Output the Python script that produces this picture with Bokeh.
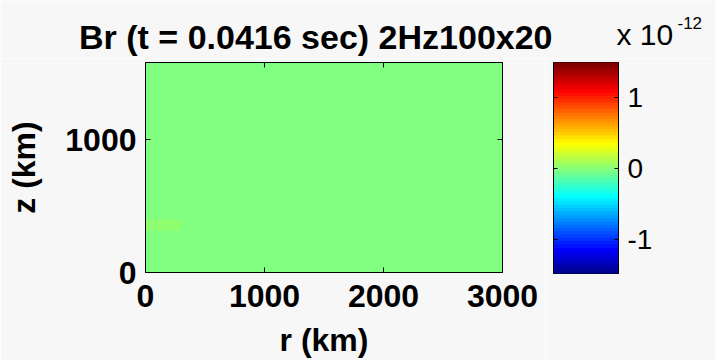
import numpy as np
from bokeh.plotting import figure
from bokeh.models import (Range1d, LinearColorMapper, FixedTicker, LinearAxis,
                          Label, CustomJSTickFormatter)
from bokeh.layouts import column, row
from bokeh.embed import file_html
from bokeh.resources import INLINE

# ---------------- data ----------------
title_text = "Br  (t = 0.0416 sec) 2Hz100x20"
x_label = "r (km)"
y_label = "z (km)"
r_extent_km = [0, 3000]
z_extent_km = [0, 1580]
n_r, n_z = 100, 20                 # grid 100 x 20
field_background = 0.0             # Br (units of 1e-12) almost everywhere
patch_rows = [4]                   # faint slightly positive spot near r~0-300 km, z~320-400 km
patch_cols = list(range(0, 10))
patch_value = 0.03
x_ticks = [0, 1000, 2000, 3000]
y_ticks = [0, 1000]
cbar_low, cbar_high = -1.48, 1.49  # colour limits (x 1e-12)
cbar_ticks = [-1, 0, 1]
cbar_exponent_base = "x 10"
cbar_exponent = "-12"

BG = "#F7F7F7"
FONT = "Liberation Sans"


def matlab_jet(n=64):
    m = int(np.ceil(n / 4))
    u = np.concatenate([np.arange(1, m + 1) / m, np.ones(m - 1), np.arange(m, 0, -1) / m])
    g = int(np.ceil(m / 2)) - (1 if n % 4 == 1 else 0) + np.arange(1, len(u) + 1)
    rr, bb = g + m, g - m
    R, G, B = np.zeros(n), np.zeros(n), np.zeros(n)
    for idx, val in zip(rr, u):
        if 1 <= idx <= n:
            R[idx - 1] = val
    for idx, val in zip(g, u):
        if 1 <= idx <= n:
            G[idx - 1] = val
    for idx, val in zip(bb, u):
        if 1 <= idx <= n:
            B[idx - 1] = val
    return ["#%02x%02x%02x" % (int(round(r * 255)), int(round(g_ * 255)), int(round(b * 255)))
            for r, g_, b in zip(R, G, B)]


jet64 = matlab_jet(64)
mapper = LinearColorMapper(palette=jet64, low=cbar_low, high=cbar_high)

br_field = np.full((n_z, n_r), field_background)
for rr_ in patch_rows:
    for cc_ in patch_cols:
        br_field[rr_, cc_] = patch_value

# ---------------- title strip ----------------
TW, TH = 715, 58
pt = figure(width=TW, height=TH, x_range=Range1d(0, TW), y_range=Range1d(0, TH),
            min_border=0, toolbar_location=None, output_backend="svg",
            x_axis_location=None, y_axis_location=None, outline_line_color=None,
            background_fill_color=BG, border_fill_color=BG)
pt.grid.visible = False
pt.add_layout(Label(x=320, y=22, text=title_text, text_align="center",
                    text_baseline="alphabetic", text_font=FONT, text_font_style="bold",
                    text_font_size="34px", text_color="black"))
pt.add_layout(Label(x=616, y=24, text=cbar_exponent_base, text_align="left",
                    text_baseline="alphabetic", text_font=FONT,
                    text_font_size="30px", text_color="black"))
pt.add_layout(Label(x=677, y=36, text=cbar_exponent, text_align="left",
                    text_baseline="alphabetic", text_font=FONT,
                    text_font_size="17px", text_color="black"))

# ---------------- main field ----------------
p1 = figure(frame_width=357, frame_height=210, min_border_left=145, min_border_right=43,
            min_border_top=4, min_border_bottom=88,
            x_range=Range1d(*r_extent_km), y_range=Range1d(*z_extent_km),
            toolbar_location=None, output_backend="svg",
            background_fill_color=BG, border_fill_color=BG, outline_line_color="black")
p1.grid.visible = False
p1.image(image=[br_field], x=r_extent_km[0], y=z_extent_km[0],
         dw=r_extent_km[1] - r_extent_km[0], dh=z_extent_km[1] - z_extent_km[0],
         color_mapper=mapper)

for ax, ticks in ((p1.xaxis[0], x_ticks), (p1.yaxis[0], y_ticks)):
    ax.ticker = FixedTicker(ticks=ticks)
    ax.major_tick_in = 5
    ax.major_tick_out = 0
    ax.minor_tick_line_color = None
    ax.axis_line_color = "black"
    ax.major_tick_line_color = "black"
    ax.major_label_text_font = FONT
    ax.major_label_text_font_style = "bold"
    ax.major_label_text_font_size = "32px"
    ax.major_label_text_color = "black"
    ax.axis_label_text_font = FONT
    ax.axis_label_text_font_style = "bold"
    ax.axis_label_text_font_size = "32px"
    ax.axis_label_text_color = "black"

p1.xaxis.axis_label = x_label
p1.xaxis.major_label_standoff = 12
p1.xaxis.axis_label_standoff = 12
p1.yaxis.axis_label = y_label
p1.yaxis.major_label_standoff = 9
p1.yaxis.axis_label_standoff = 20
p1.yaxis.major_label_orientation = "horizontal"

blank = CustomJSTickFormatter(code="return ''")
top_ax = LinearAxis(ticker=FixedTicker(ticks=x_ticks), formatter=blank,
                    major_tick_in=5, major_tick_out=0, minor_tick_line_color=None,
                    axis_line_color="black", major_label_standoff=0,
                    major_label_text_font_size="1px")
right_ax = LinearAxis(ticker=FixedTicker(ticks=y_ticks), formatter=blank,
                      major_tick_in=5, major_tick_out=0, minor_tick_line_color=None,
                      axis_line_color="black", major_label_standoff=0,
                      major_label_text_font_size="1px")
p1.add_layout(top_ax, "above")
p1.add_layout(right_ax, "right")

# ---------------- colour bar ----------------
p2 = figure(frame_width=65, frame_height=211, min_border_left=8, min_border_right=97,
            min_border_top=4, min_border_bottom=87,
            x_range=Range1d(0, 1), y_range=Range1d(cbar_low, cbar_high),
            x_axis_location=None, y_axis_location="right",
            toolbar_location=None, output_backend="svg",
            background_fill_color=BG, border_fill_color=BG, outline_line_color="black")
p2.grid.visible = False
n_col = len(jet64)
edges = np.linspace(cbar_low, cbar_high, n_col + 1)
p2.quad(left=0, right=1, bottom=edges[:-1], top=edges[1:], fill_color=jet64,
        line_color=jet64, line_width=1)

cax = p2.yaxis[0]
cax.ticker = FixedTicker(ticks=cbar_ticks)
cax.major_label_overrides = {-1: "-1", 0: "0", 1: "1"}
cax.major_tick_in = 4
cax.major_tick_out = 0
cax.minor_tick_line_color = None
cax.axis_line_color = "black"
cax.major_label_standoff = 9
cax.major_label_text_font = FONT
cax.major_label_text_font_size = "28px"
cax.major_label_text_color = "black"

cleft = LinearAxis(ticker=FixedTicker(ticks=cbar_ticks), formatter=blank,
                   major_tick_in=4, major_tick_out=0, minor_tick_line_color=None,
                   axis_line_color="black", major_label_standoff=0,
                   major_label_text_font_size="1px")
p2.add_layout(cleft, "left")

layout = column(pt, row(p1, p2))
open("out.html", "w").write(file_html(layout, INLINE))
